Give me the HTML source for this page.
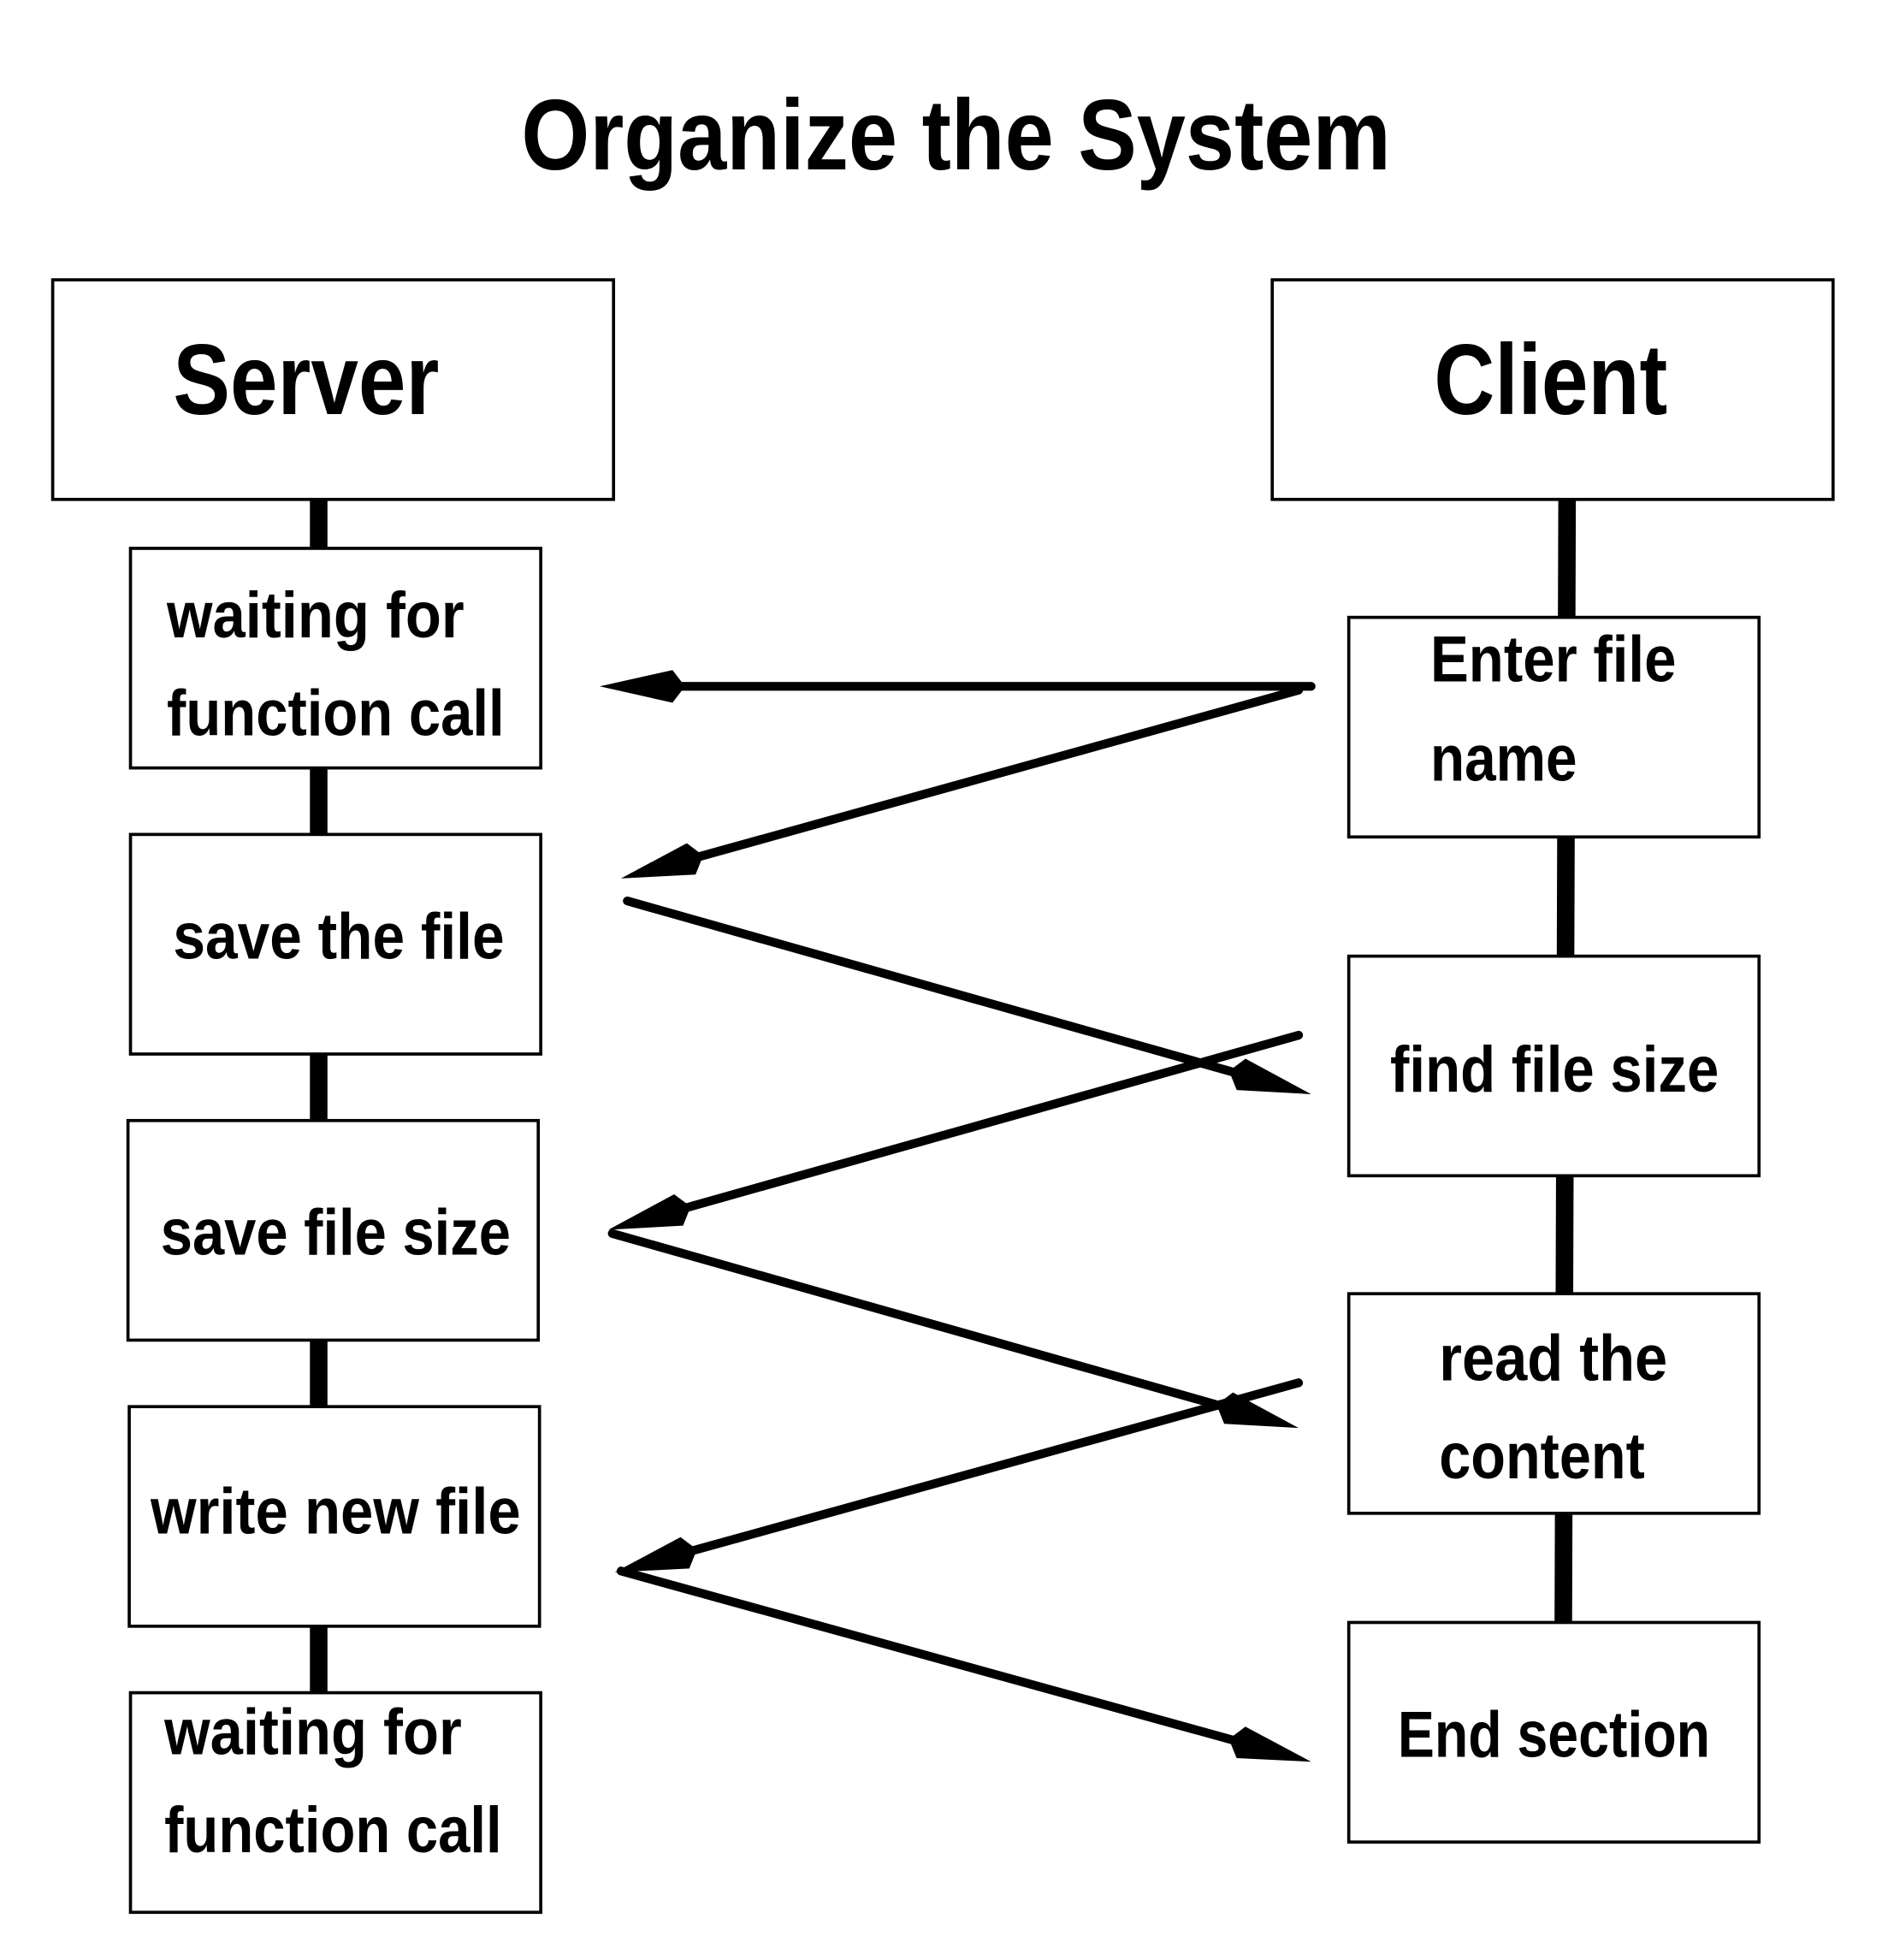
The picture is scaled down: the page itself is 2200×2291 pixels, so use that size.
<!DOCTYPE html>
<html><head><meta charset="utf-8"><style>
html,body{margin:0;padding:0;background:#fff}
svg{display:block}
text{font-family:"Liberation Sans Narrow","Liberation Sans",sans-serif;font-weight:bold;fill:#000}
</style></head><body>
<svg id="s" width="2200" height="2291" viewBox="0 0 1500 1562" preserveAspectRatio="none" xmlns="http://www.w3.org/2000/svg">
<rect width="1500" height="1562" fill="#fff"/>
<text x="762" y="135" font-size="80" text-anchor="middle" textLength="693" lengthAdjust="spacingAndGlyphs">Organize the System</text>
<g stroke="#000" stroke-width="14">
<line x1="254" y1="398" x2="254" y2="1349"/>
<line x1="1249" y1="398" x2="1246" y2="1293"/>
</g>
<g fill="#fff" stroke="#000" stroke-width="2.5">
<rect x="42" y="223" width="447" height="175"/>
<rect x="1014" y="223" width="447" height="175"/>
<rect x="104" y="437" width="327" height="175"/>
<rect x="104" y="665" width="327" height="175"/>
<rect x="102" y="893" width="327" height="175"/>
<rect x="103" y="1121" width="327" height="175"/>
<rect x="104" y="1349" width="327" height="175"/>
<rect x="1075" y="492" width="327" height="175"/>
<rect x="1075" y="762" width="327" height="175"/>
<rect x="1075" y="1031" width="327" height="175"/>
<rect x="1075" y="1293" width="327" height="175"/>
</g>
<text x="138" y="330" font-size="80" textLength="212" lengthAdjust="spacingAndGlyphs">Server</text>
<text x="1143" y="330" font-size="80" textLength="186" lengthAdjust="spacingAndGlyphs">Client</text>
<g font-size="52">
<text x="133" y="508" textLength="237" lengthAdjust="spacingAndGlyphs">waiting for</text>
<text x="133" y="586" textLength="269" lengthAdjust="spacingAndGlyphs">function call</text>
<text x="138" y="764" textLength="264" lengthAdjust="spacingAndGlyphs">save the file</text>
<text x="128" y="1000" textLength="279" lengthAdjust="spacingAndGlyphs">save file size</text>
<text x="120" y="1222" textLength="295" lengthAdjust="spacingAndGlyphs">write new file</text>
<text x="131" y="1398" textLength="237" lengthAdjust="spacingAndGlyphs">waiting for</text>
<text x="131" y="1476" textLength="269" lengthAdjust="spacingAndGlyphs">function call</text>
<text x="1140" y="543" textLength="196" lengthAdjust="spacingAndGlyphs">Enter file</text>
<text x="1140" y="622" textLength="117" lengthAdjust="spacingAndGlyphs">name</text>
<text x="1108" y="870" textLength="262" lengthAdjust="spacingAndGlyphs">find file size</text>
<text x="1147" y="1100" textLength="182" lengthAdjust="spacingAndGlyphs">read the</text>
<text x="1147" y="1178" textLength="164" lengthAdjust="spacingAndGlyphs">content</text>
<text x="1114" y="1400" textLength="249" lengthAdjust="spacingAndGlyphs">End section</text>
</g>
<g id="arrows"></g>
</svg>
<script>
var A=[[1045,547,478,547],[1035,550,495,700],[500,718,1045,872],[1035,825,485,980],[488,983,1035,1138],[1035,1102,490,1253],[495,1252,1045,1404]];
var g=document.getElementById('arrows'),ns="http://www.w3.org/2000/svg",h="";
A.forEach(function(a){
 var dx=a[2]-a[0],dy=a[3]-a[1],L=Math.hypot(dx,dy),ux=dx/L,uy=dy/L,px=-uy,py=ux;
 var tx=a[2],ty=a[3];
 function P(b,s){return (tx-ux*b+px*s).toFixed(1)+","+(ty-uy*b+py*s).toFixed(1);}
 h+='<line x1="'+a[0]+'" y1="'+a[1]+'" x2="'+(tx-ux*40).toFixed(1)+'" y2="'+(ty-uy*40).toFixed(1)+'" stroke="#000" stroke-width="7" stroke-linecap="round"/>';
 h+='<polygon fill="#000" points="'+P(0,0)+' '+P(58,13)+' '+P(68,0)+' '+P(58,-13)+'"/>';
});
g.innerHTML=h;
</script>
</body></html>
